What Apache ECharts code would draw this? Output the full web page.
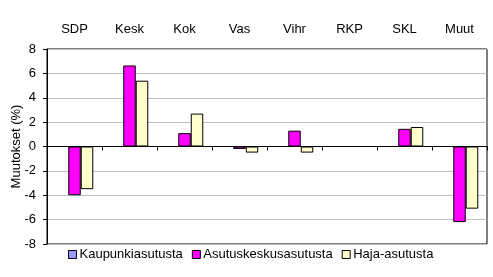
<!DOCTYPE html>
<html>
<head>
<meta charset="utf-8">
<script src="https://cdn.jsdelivr.net/npm/echarts@6/dist/echarts.min.js"></script>
<style>html,body{margin:0;padding:0;background:#fff;}#c{width:493px;height:277px;}</style>
</head>
<body>
<div id="c"></div>
<script>
var categories = ['SDP', 'Kesk', 'Kok', 'Vas', 'Vihr', 'RKP', 'SKL', 'Muut'];
var seriesNames = ['Kaupunkiasutusta', 'Asutuskeskusasutusta', 'Haja-asutusta'];
var kaupunki = [null, null, null, null, null, null, null, null];
var asutuskeskus = [-4.0, 6.65, 1.1, -0.2, 1.3, null, 1.45, -6.2];
var haja = [-3.5, 5.4, 2.7, -0.5, -0.5, null, 1.6, -5.1];
var yTicks = [-8, -6, -4, -2, 0, 2, 4, 6, 8];

var font = 'Liberation Sans, Arial, sans-serif';
var colors = ['#9999FF', '#FF00FF', '#FFFFCC'];
var data = [kaupunki, asutuskeskus, haja];

var chart = echarts.init(document.getElementById('c'));
chart.setOption({
  animation: false,
  textStyle: { fontFamily: font },
  grid: { left: 47, right: 6, top: 49, bottom: 33, show: true, borderColor: '#000', borderWidth: 1,
          containLabel: false, outerBoundsMode: 'none' },
  legend: {
    bottom: 11, left: 63,
    itemWidth: 8, itemHeight: 8, itemGap: 9,
    icon: 'rect',
    textStyle: { fontFamily: font, fontSize: 13, color: '#000', padding: [0, 0, 0, -2] },
    data: seriesNames.map(function (n, i) {
      return { name: n, itemStyle: { color: colors[i], borderColor: '#000', borderWidth: 1 } };
    })
  },
  xAxis: [
    {
      type: 'category', data: categories, position: 'top',
      axisLine: { show: false }, axisTick: { show: false },
      axisLabel: { fontFamily: font, fontSize: 13, color: '#000', margin: 13 }
    },
    {
      type: 'category', data: categories, position: 'bottom',
      axisLine: { show: true, onZero: true, onZeroAxisIndex: 0, lineStyle: { color: '#000', width: 1 } },
      axisTick: { show: true, length: 4, lineStyle: { color: '#000' } },
      axisLabel: { show: false }
    }
  ],
  yAxis: {
    type: 'value', min: -8, max: 8, interval: 2,
    name: 'Muutokset (%)', nameLocation: 'middle', nameGap: 24, nameRotate: 90, nameMoveOverlap: false,
    nameTextStyle: { fontFamily: font, fontSize: 13, color: '#000' },
    axisLine: { show: true, lineStyle: { color: '#000' } },
    axisTick: { show: true, length: 4, lineStyle: { color: '#000' } },
    axisLabel: { fontFamily: font, fontSize: 13, color: '#000', margin: 11,
      formatter: function (v) { return yTicks.indexOf(v) >= 0 ? String(v) : ''; } },
    splitLine: { show: true, lineStyle: { color: '#c0c0c0', width: 1 } }
  },
  series: seriesNames.map(function (n, i) {
    return {
      name: n, type: 'bar', xAxisIndex: 0, data: data[i],
      barGap: '0%', barWidth: 12.5,
      itemStyle: { color: colors[i], borderColor: '#000', borderWidth: 1 }
    };
  })
});
</script>
</body>
</html>
